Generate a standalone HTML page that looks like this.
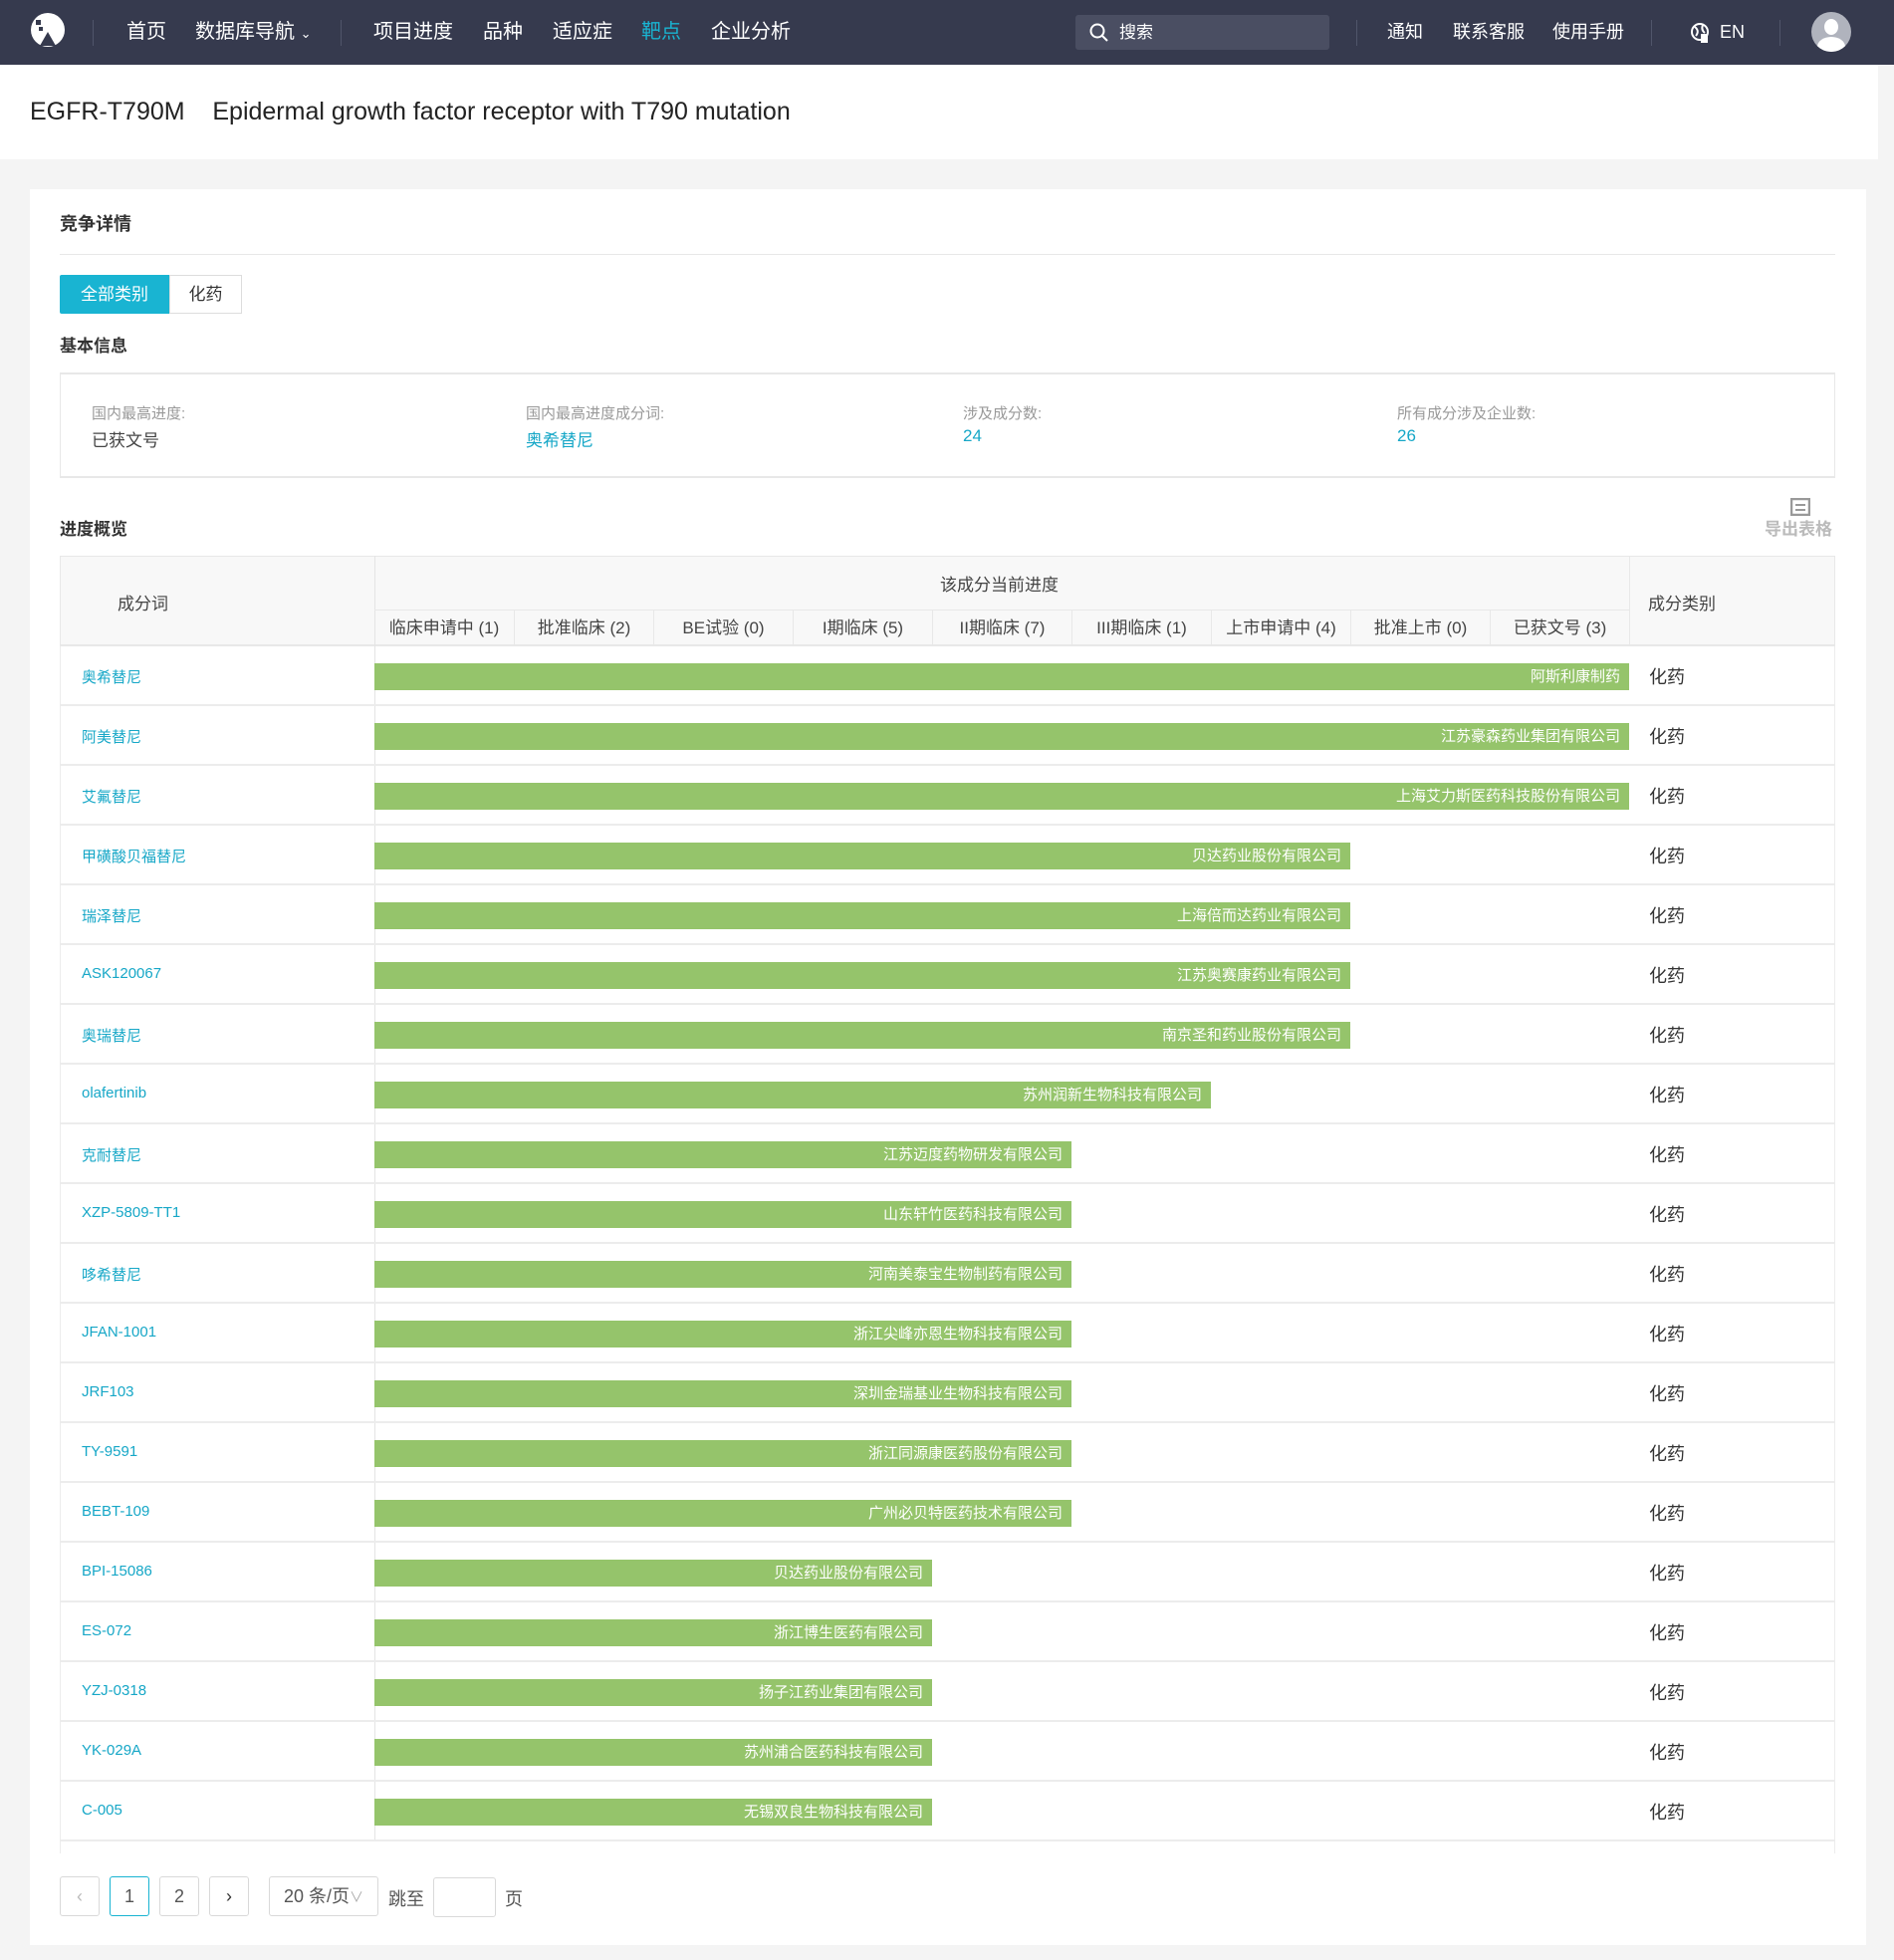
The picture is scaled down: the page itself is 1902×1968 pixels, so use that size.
<!DOCTYPE html>
<html><head><meta charset="utf-8"><style>
*{margin:0;padding:0;box-sizing:border-box}
body{width:1902px;height:1968px;background:#f4f4f4;font-family:"Liberation Sans","Noto Sans CJK SC",sans-serif;position:relative;overflow:hidden;color:#333}
.a{position:absolute;white-space:nowrap}
.nav{position:absolute;left:0;top:0;width:1902px;height:65px;background:#363a4e}
.nv{position:absolute;top:20px;font-size:20px;color:#fff;line-height:24px}
.sep{position:absolute;top:20px;width:1px;height:26px;background:#50556a}
.hdr{position:absolute;left:0;top:65px;width:1886px;height:95px;background:#fff}
.card{position:absolute;left:30px;top:190px;width:1844px;height:1763px;background:#fff}
.lbl{font-size:15px;color:#999}
.blue{color:#16a7c7}
.th{position:absolute;background:#f8f8f8;border-color:#e8e8e8}
.row{position:absolute;left:60px;width:1783px;height:60px;border-bottom:2px solid #ececec}
.name{position:absolute;left:22px;top:20px;font-size:15px;color:#16a7c7}
.bar{position:absolute;left:316px;top:17px;height:27px;background:#95c46b;color:#fff;font-size:15px;text-align:right;padding-right:9px;line-height:27px}
.cat{position:absolute;left:1596px;top:17px;font-size:18px;color:#333}
.pb{position:absolute;top:1884px;height:40px;border:1px solid #d9d9d9;border-radius:3px;font-size:18px;text-align:center;line-height:38px;color:#555}
</style></head><body>
<div class="nav"></div>
<svg class="a" style="left:30px;top:12px" width="36" height="36" viewBox="0 0 36 36"><circle cx="18" cy="18" r="17" fill="#fff"/><path d="M10 34 L18 20 L26 34 Z" fill="#363a4e"/><rect x="6" y="8" width="5" height="5" fill="#363a4e"/><rect x="9" y="15" width="4" height="4" fill="#363a4e"/></svg>
<div class="sep" style="left:93px"></div>
<div class="nv" style="left:127px">首页</div>
<div class="nv" style="left:196px">数据库导航 <span style="font-size:13px">⌄</span></div>
<div class="sep" style="left:342px"></div>
<div class="nv" style="left:375px">项目进度</div>
<div class="nv" style="left:485px">品种</div>
<div class="nv" style="left:555px">适应症</div>
<div class="nv" style="left:644px;color:#19b4d2">靶点</div>
<div class="nv" style="left:714px">企业分析</div>
<div class="a" style="left:1080px;top:15px;width:255px;height:35px;background:#4a4e62;border-radius:3px"></div>
<svg class="a" style="left:1094px;top:23px" width="20" height="20"><circle cx="8" cy="8" r="6.5" fill="none" stroke="#fff" stroke-width="2"/><line x1="13" y1="13" x2="18" y2="18" stroke="#fff" stroke-width="2"/></svg>
<div class="nv" style="left:1124px;top:21px;font-size:17px">搜索</div>
<div class="sep" style="left:1362px"></div>
<div class="nv" style="left:1393px;font-size:18px">通知</div>
<div class="nv" style="left:1459px;font-size:18px">联系客服</div>
<div class="nv" style="left:1559px;font-size:18px">使用手册</div>
<div class="sep" style="left:1658px"></div>
<svg class="a" style="left:1697px;top:22px" width="20" height="22"><circle cx="10" cy="10" r="8" fill="none" stroke="#fff" stroke-width="2"/><path d="M5 5 Q10 9 6 14 M13 3 Q11 8 15 11" stroke="#fff" stroke-width="2" fill="none"/><rect x="11" y="12" width="7" height="9" fill="#fff"/></svg>
<div class="nv" style="left:1727px;font-size:18px">EN</div>
<div class="sep" style="left:1787px"></div>
<div class="a" style="left:1819px;top:12px;width:40px;height:40px;border-radius:50%;background:#b0b3bd;overflow:hidden"><div style="position:absolute;left:13px;top:7px;width:14px;height:16px;border-radius:50%;background:#fff"></div><div style="position:absolute;left:6px;top:25px;width:28px;height:20px;border-radius:50%;background:#fff"></div></div>

<div class="hdr"></div>
<div class="a" style="left:30px;top:98px;font-size:25px;color:#222">EGFR-T790M&nbsp;&nbsp;&nbsp;&nbsp;Epidermal growth factor receptor with T790 mutation</div>

<div class="card"></div>
<div class="a" style="left:60px;top:211px;font-size:18px;font-weight:bold;color:#333">竞争详情</div>
<div class="a" style="left:60px;top:255px;width:1783px;height:1px;background:#e8e8e8"></div>
<div class="a" style="left:60px;top:276px;width:110px;height:39px;background:#19b4d2;color:#fff;font-size:17px;text-align:center;line-height:39px;border-radius:2px 0 0 2px">全部类别</div>
<div class="a" style="left:170px;top:276px;width:73px;height:39px;border:1px solid #ddd;font-size:17px;text-align:center;line-height:37px;color:#333">化药</div>
<div class="a" style="left:60px;top:333px;font-size:17px;font-weight:bold;color:#333">基本信息</div>
<div class="a" style="left:60px;top:374px;width:1783px;height:106px;border:1px solid #e8e8e8;border-width:2px 1px 2px 1px"></div>
<div class="a lbl" style="left:92px;top:404px">国内最高进度:</div>
<div class="a" style="left:92px;top:428px;font-size:17px;color:#444">已获文号</div>
<div class="a lbl" style="left:528px;top:404px">国内最高进度成分词:</div>
<div class="a blue" style="left:528px;top:428px;font-size:17px">奥希替尼</div>
<div class="a lbl" style="left:967px;top:404px">涉及成分数:</div>
<div class="a blue" style="left:967px;top:428px;font-size:17px">24</div>
<div class="a lbl" style="left:1403px;top:404px">所有成分涉及企业数:</div>
<div class="a blue" style="left:1403px;top:428px;font-size:17px">26</div>

<div class="a" style="left:60px;top:517px;font-size:17px;font-weight:bold;color:#333">进度概览</div>
<svg class="a" style="left:1798px;top:500px" width="20" height="18"><rect x="1" y="1" width="18" height="16" fill="none" stroke="#999" stroke-width="2.5"/><line x1="5" y1="7" x2="15" y2="7" stroke="#999" stroke-width="2"/><line x1="5" y1="12" x2="15" y2="12" stroke="#999" stroke-width="2"/></svg>
<div class="a" style="left:1772px;top:517px;font-size:17px;color:#bbb;font-weight:bold">导出表格</div>

<div class="th" style="left:60px;top:558px;width:1783px;height:91px;border:1px solid #e8e8e8;border-bottom:2px solid #e8e8e8"></div>
<div class="a" style="left:376px;top:558px;width:1px;height:1290px;background:#e4e4e4"></div>
<div class="a" style="left:1636px;top:558px;width:1px;height:91px;background:#e8e8e8"></div>
<div class="a" style="left:376px;top:612px;width:1260px;height:1px;background:#e8e8e8"></div>
<div class="a" style="left:118px;top:592px;font-size:17px;color:#444">成分词</div>
<div class="a" style="left:944px;top:573px;font-size:17px;color:#444">该成分当前进度</div>
<div class="a" style="left:1655px;top:592px;font-size:17px;color:#444">成分类别</div>
<div id="stages"></div>
<div class="a" style="left:60px;top:649px;width:1px;height:1212px;background:#ececec"></div>
<div class="a" style="left:1842px;top:649px;width:1px;height:1212px;background:#ececec"></div>
<div id="rows"></div>

<div class="pb" style="left:60px;width:40px;color:#bbb">‹</div>
<div class="pb" style="left:110px;width:40px;border-color:#19b4d2">1</div>
<div class="pb" style="left:160px;width:40px">2</div>
<div class="pb" style="left:210px;width:40px;color:#333">›</div>
<div class="pb" style="left:270px;width:110px">20 条/页<span style="color:#aaa;font-size:14px">∨</span></div>
<div class="a" style="left:390px;top:1893px;font-size:18px;color:#555">跳至</div>
<div class="pb" style="left:435px;width:63px;top:1885px"></div>
<div class="a" style="left:507px;top:1893px;font-size:18px;color:#555">页</div>

<script>
var st=["临床申请中 (1)","批准临床 (2)","BE试验 (0)","I期临床 (5)","II期临床 (7)","III期临床 (1)","上市申请中 (4)","批准上市 (0)","已获文号 (3)"],h="";
st.forEach(function(s,i){h+='<div class="a" style="left:'+(376+i*140)+'px;top:613px;width:140px;height:36px;'+(i?'border-left:1px solid #e8e8e8;':'')+'text-align:center;line-height:36px;font-size:17px;color:#444">'+s+'</div>'});
document.getElementById('stages').innerHTML=h;
var r=[["奥希替尼",9,"阿斯利康制药"],["阿美替尼",9,"江苏豪森药业集团有限公司"],["艾氟替尼",9,"上海艾力斯医药科技股份有限公司"],["甲磺酸贝福替尼",7,"贝达药业股份有限公司"],["瑞泽替尼",7,"上海倍而达药业有限公司"],["ASK120067",7,"江苏奥赛康药业有限公司"],["奥瑞替尼",7,"南京圣和药业股份有限公司"],["olafertinib",6,"苏州润新生物科技有限公司"],["克耐替尼",5,"江苏迈度药物研发有限公司"],["XZP-5809-TT1",5,"山东轩竹医药科技有限公司"],["哆希替尼",5,"河南美泰宝生物制药有限公司"],["JFAN-1001",5,"浙江尖峰亦恩生物科技有限公司"],["JRF103",5,"深圳金瑞基业生物科技有限公司"],["TY-9591",5,"浙江同源康医药股份有限公司"],["BEBT-109",5,"广州必贝特医药技术有限公司"],["BPI-15086",4,"贝达药业股份有限公司"],["ES-072",4,"浙江博生医药有限公司"],["YZJ-0318",4,"扬子江药业集团有限公司"],["YK-029A",4,"苏州浦合医药科技有限公司"],["C-005",4,"无锡双良生物科技有限公司"]];
h="";
r.forEach(function(x,i){h+='<div class="row" style="top:'+(649+i*60)+'px"><div class="name">'+x[0]+'</div><div class="bar" style="width:'+(x[1]*140)+'px">'+x[2]+'</div><div class="cat">化药</div></div>'});
document.getElementById('rows').innerHTML=h;
</script>
</body></html>
